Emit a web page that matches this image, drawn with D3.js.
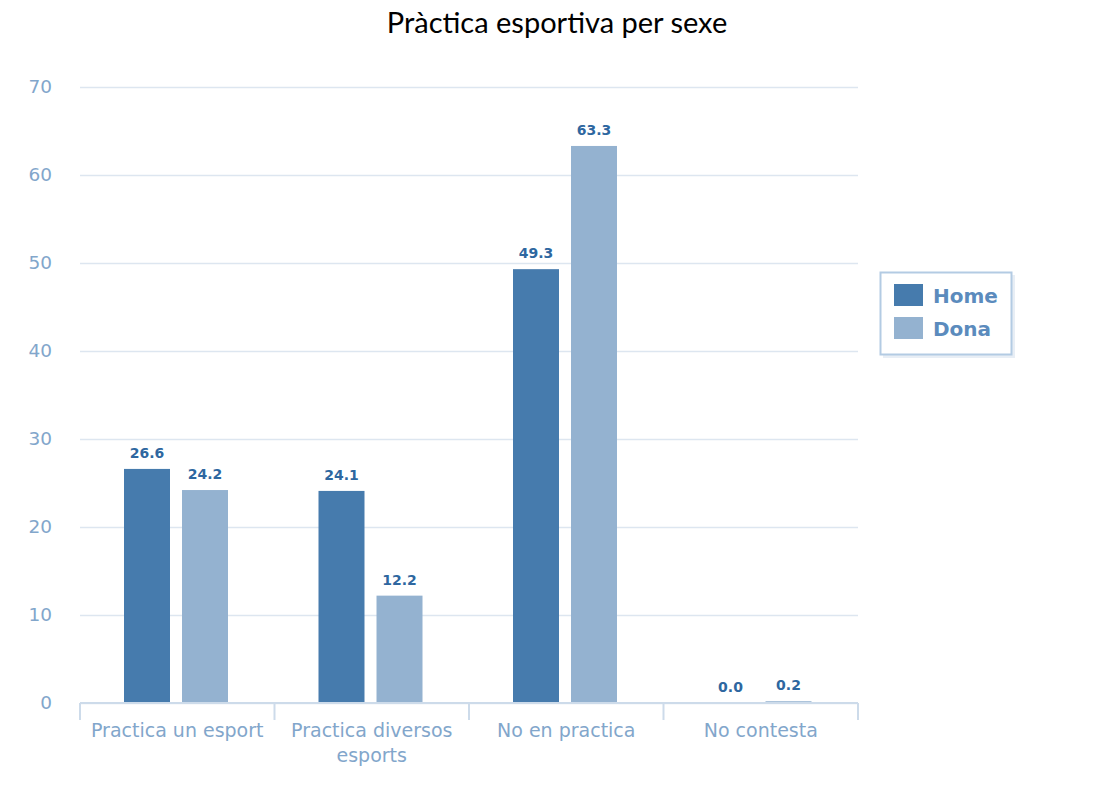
<!DOCTYPE html>
<html><head><meta charset="utf-8">
<script src="https://cdn.jsdelivr.net/npm/d3@7"></script>
<style>body{margin:0;background:#fff}</style>
</head><body>
<svg id="c" width="1094" height="794"></svg>
<script>
const categories = [["Practica un esport"], ["Practica diversos", "esports"], ["No en practica"], ["No contesta"]];
const seriesNames = ["Home", "Dona"];
const home = [26.6, 24.1, 49.3, 0.0];
const dona = [24.2, 12.2, 63.3, 0.2];
const yTicks = [0, 10, 20, 30, 40, 50, 60, 70];
const colors = ["#467bad", "#94b2d0"];

const svg = d3.select("#c");
const m = {l: 80, r: 858, t: 87, b: 703};
const x = d3.scaleBand().domain(d3.range(categories.length)).range([m.l, m.r]);
const x1 = d3.scaleBand().domain(d3.range(2)).range([44, 148]).paddingInner(0.207);
const y = d3.scaleLinear().domain([0, 70]).range([m.b, m.t]);

svg.append("text").attr("x", 557).attr("y", 33).attr("text-anchor", "middle")
  .attr("font-family", "Lato, 'Open Sans', sans-serif").attr("font-size", 29).attr("fill", "#000")
  .text("Pràctica esportiva per sexe");

// grid
const grid = svg.append("g").attr("transform", `translate(${m.l},0)`)
  .call(d3.axisLeft(y).tickValues(yTicks).tickSize(-(m.r - m.l)).tickFormat(d => d));
grid.select(".domain").remove();
grid.selectAll(".tick line").attr("stroke", "#dde6f0").attr("stroke-width", 1.5);
grid.selectAll(".tick text").attr("x", -28).attr("font-family", "'DejaVu Sans', sans-serif")
  .attr("font-size", 18.5).attr("fill", "#82a6cb").attr("text-anchor", "end");

// bars
const data = [home, dona];
const g = svg.append("g");
data.forEach((vals, si) => {
  g.selectAll(null).data(vals).enter().append("rect")
    .attr("x", (d, i) => x(i) + x1(si))
    .attr("width", x1.bandwidth())
    .attr("y", d => y(d))
    .attr("height", d => y(0) - y(d))
    .attr("fill", colors[si]);
  g.selectAll(null).data(vals).enter().append("text")
    .attr("x", (d, i) => x(i) + x1(si) + x1.bandwidth() / 2)
    .attr("y", d => y(d) - 11)
    .attr("text-anchor", "middle")
    .attr("font-family", "'DejaVu Sans', sans-serif").attr("font-weight", "bold")
    .attr("font-size", 14).attr("fill", "#2e67a0")
    .text(d => d.toFixed(1));
});

// x axis
const xa = svg.append("g").attr("transform", `translate(0,${m.b})`);
xa.append("line").attr("x1", m.l).attr("x2", m.r).attr("stroke", "#cddbea").attr("stroke-width", 2);
const edges = d3.range(categories.length + 1).map(i => i < categories.length ? x(i) : m.r);
xa.selectAll(".tk").data(edges).enter().append("line")
  .attr("x1", d => d).attr("x2", d => d).attr("y1", 0).attr("y2", 17)
  .attr("stroke", "#cddbea").attr("stroke-width", 2);
categories.forEach((lines, i) => {
  const t = xa.append("text").attr("text-anchor", "middle")
    .attr("font-family", "'DejaVu Sans', sans-serif").attr("font-size", 19).attr("fill", "#82a6cb");
  lines.forEach((ln, k) => t.append("tspan").attr("x", x(i) + x.bandwidth() / 2).attr("y", 34 + k * 25).text(ln));
});

// legend
const lg = svg.append("g").attr("transform", "translate(880,272)");
lg.append("rect").attr("x", 3).attr("y", 3).attr("width", 132).attr("height", 83).attr("fill", "#e8eef5");
lg.append("rect").attr("x", 0.5).attr("y", 0.5).attr("width", 131).attr("height", 82)
  .attr("fill", "#fff").attr("stroke", "#b3cbe3").attr("stroke-width", 2);
seriesNames.forEach((n, i) => {
  lg.append("rect").attr("x", 14).attr("y", 12 + i * 33).attr("width", 29).attr("height", 22).attr("fill", colors[i]);
  lg.append("text").attr("x", 53).attr("y", 31 + i * 33)
    .attr("font-family", "'DejaVu Sans', sans-serif").attr("font-weight", "bold")
    .attr("font-size", 20).attr("fill", "#5b8bbd").text(n);
});
</script>
</body></html>
